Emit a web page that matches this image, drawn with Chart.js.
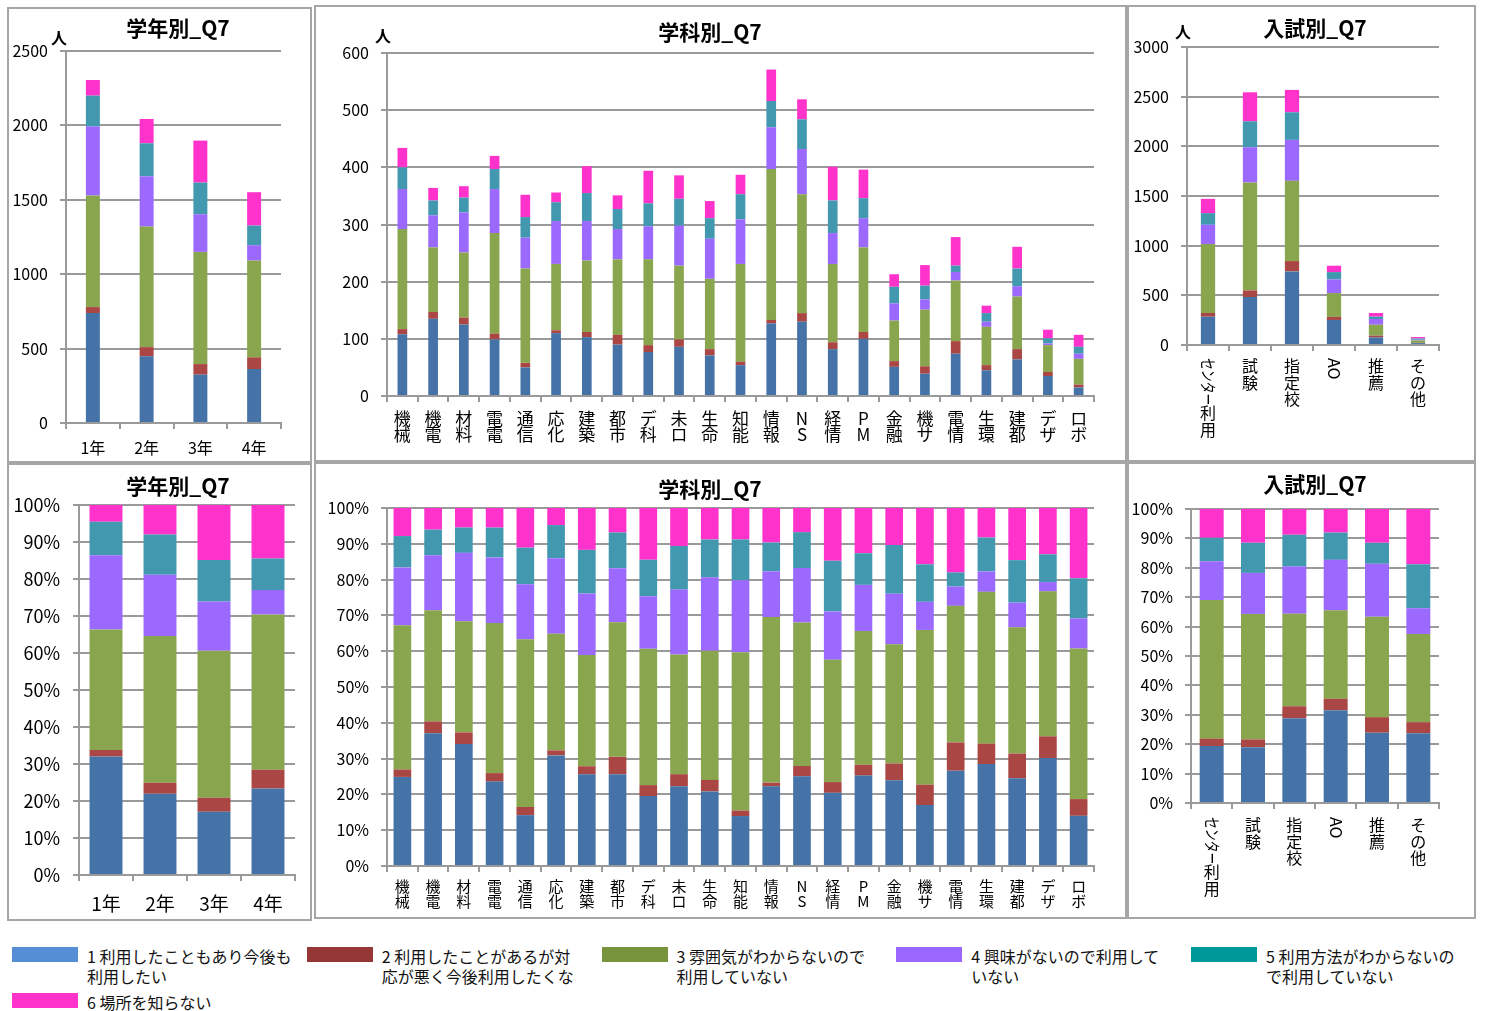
<!DOCTYPE html>
<html lang="ja">
<head>
<meta charset="utf-8">
<title>Q7 集計</title>
<script src="https://cdn.jsdelivr.net/npm/chart.js@4/dist/chart.umd.min.js"></script>
<style>
  body { margin: 0; background: #fff; }
  #page { position: relative; width: 1487px; height: 1011px; overflow: hidden;
          font-family: 'Noto Sans CJK JP', 'Noto Sans', sans-serif; }
  .panel { position: absolute; box-sizing: border-box; border: 2px solid #a6a6a6; }
  .panel canvas { position: absolute; left: -2px; top: -2px; }
  .lg { position: absolute; }
  .lg .sw { position: absolute; left: 0; top: 1px; width: 66px; height: 15px; }
  .lg .tx { position: absolute; left: 75px; top: 0; font-size: 16px; line-height: 20px;
            color: #111; white-space: nowrap; }
</style>
</head>
<body>
<div id="page"></div>
<script>
/* Q7 answers split by grade, department and admission type (counts and 100% shares) */

const FONT = "'Noto Sans CJK JP', 'Noto Sans', sans-serif";
const AXIS = '#9a9a9a';

const SERIES = [
  '1 利用したこともあり今後も利用したい',
  '2 利用したことがあるが対応が悪く今後利用したくな',
  '3 雰囲気がわからないので利用していない',
  '4 興味がないので利用していない',
  '5 利用方法がわからないので利用していない',
  '6 場所を知らない',
];
const LEGEND_LINES = [
  ['1 利用したこともあり今後も', '利用したい'],
  ['2 利用したことがあるが対', '応が悪く今後利用したくな'],
  ['3 雰囲気がわからないので', '利用していない'],
  ['4 興味がないので利用して', 'いない'],
  ['5 利用方法がわからないの', 'で利用していない'],
  ['6 場所を知らない'],
];
const BAR_COLORS = ['#4572A7', '#AA4643', '#89A54E', '#9B69FE', '#4198AF', '#FF33CC'];
const LEGEND_COLORS = ['#558ED5', '#953735', '#77933C', '#9966FF', '#009999', '#FF33CC'];

// 学年別
const gradeLabels = ['1年', '2年', '3年', '4年'];
const grade1 = [739, 448, 325, 363];
const grade2 = [40, 62, 71, 78];
const grade3 = [750, 810, 754, 651];
const grade4 = [463, 338, 253, 103];
const grade5 = [208, 222, 213, 132];
const grade6 = [105, 163, 282, 224];

// 学科別
const deptLabels = ['機械', '機電', '材料', '電電', '通信', '応化', '建築', '都市', 'デ科', '未ロ', '生命',
  '知能', '情報', 'NS', '経情', 'PM', '金融', '機サ', '電情', '生環', '建都', 'デザ', 'ロボ'];
const dept1 = [108, 135, 125, 99, 50, 110, 103, 90, 77, 86, 71, 54, 127, 130, 82, 100, 51, 39, 74, 45, 64, 35, 15];
const dept2 = [9, 12, 12, 10, 8, 5, 9, 17, 12, 13, 11, 6, 6, 15, 12, 12, 10, 13, 22, 9, 18, 7, 5];
const dept3 = [175, 113, 114, 176, 165, 116, 125, 132, 150, 129, 123, 171, 264, 208, 137, 148, 71, 99, 106, 67, 92, 47, 45];
const dept4 = [70, 56, 70, 77, 54, 75, 69, 53, 58, 70, 70, 78, 73, 79, 54, 51, 30, 18, 15, 9, 18, 3, 9];
const dept5 = [38, 26, 26, 35, 36, 33, 49, 35, 40, 47, 36, 44, 46, 52, 57, 35, 29, 24, 11, 15, 31, 9, 12];
const dept6 = [34, 22, 20, 23, 39, 17, 47, 24, 57, 41, 30, 34, 55, 35, 59, 50, 22, 36, 50, 13, 38, 15, 21];

// 入試別
const examLabels = ['センター利用', '試験', '指定校', 'AO', '推薦', 'その他'];
const exam1 = [285, 483, 741, 252, 77, 19];
const exam2 = [37, 67, 104, 31, 17, 3];
const exam3 = [694, 1086, 808, 240, 110, 24];
const exam4 = [194, 355, 412, 137, 58, 7];
const exam5 = [117, 261, 278, 74, 23, 12];
const exam6 = [144, 292, 225, 64, 37, 15];

Chart.defaults.font.family = FONT;
Chart.defaults.color = '#000';

// chart title and the 人 unit mark above the value axis
const panelText = {
  id: 'panelText',
  afterDraw(chart, args, o) {
    if (!o.title) return;
    const ctx = chart.ctx;
    ctx.save();
    ctx.fillStyle = '#000';
    ctx.textAlign = 'center';
    ctx.textBaseline = 'middle';
    ctx.font = `bold 21px ${FONT}`;
    ctx.fillText(o.title, o.tx, o.ty);
    if (o.unit) {
      ctx.font = `bold 16px ${FONT}`;
      ctx.fillText('人', o.ux, o.uy);
    }
    ctx.restore();
  },
};

// top-to-bottom category labels; latin and katakana runs lie on their side
const verticalTicks = {
  id: 'verticalTicks',
  afterDraw(chart, args, o) {
    if (!o.on) return;
    const sx = chart.scales.x;
    const ctx = chart.ctx;
    ctx.save();
    ctx.fillStyle = '#000';
    ctx.font = `${o.size}px ${FONT}`;
    const side = /^[\u0020-\u007e\u30a0-\u30ff\uff61-\uff9f]+$/;
    chart.data.labels.forEach((lab, i) => {
      const x = sx.getPixelForTick(i);
      let y = sx.top + o.gap;
      const runs = lab.match(/[\u0020-\u007e\u30a0-\u30ff\uff61-\uff9f]+|./g);
      runs.forEach((r) => {
        if (side.test(r)) {
          const kana = /[\u30a0-\u30ff]/.test(r);
          const w = ctx.measureText(r).width * (kana ? 0.74 : 1);
          ctx.save();
          ctx.translate(x, y);
          ctx.rotate(Math.PI / 2);
          ctx.textAlign = 'left';
          ctx.textBaseline = 'middle';
          ctx.fillText(r, 0, 0, w);
          ctx.restore();
          y += w;
        } else {
          ctx.textAlign = 'center';
          ctx.textBaseline = 'top';
          ctx.fillText(r, x, y);
          y += o.step;
        }
      });
    });
    ctx.restore();
  },
};

Chart.register(panelText, verticalTicks);

function makeChart(c) {
  const b = c.box;
  const p = c.plot;
  const panel = document.createElement('div');
  panel.className = 'panel';
  Object.assign(panel.style, { left: b.x + 'px', top: b.y + 'px', width: b.w + 'px', height: b.h + 'px' });
  const canvas = document.createElement('canvas');
  canvas.width = b.w;
  canvas.height = b.h;
  panel.appendChild(canvas);
  document.getElementById('page').appendChild(panel);

  const totals = c.labels.map((_, j) => c.series.reduce((s, arr) => s + arr[j], 0));
  const datasets = c.series.map((arr, i) => ({
    label: SERIES[i],
    data: c.pct ? arr.map((v, j) => (v / totals[j]) * 100) : arr,
    backgroundColor: BAR_COLORS[i],
    borderWidth: 0,
    barPercentage: c.bar,
    categoryPercentage: 1,
  }));

  const xLabels = c.vertical ? c.labels : c.labels.map((l) => (c.stack ? l.split('') : l));

  return new Chart(canvas, {
    type: 'bar',
    data: { labels: xLabels, datasets },
    options: {
      responsive: false,
      animation: false,
      events: [],
      layout: { padding: { top: p.t - b.y, right: b.x + b.w - p.r, left: 0, bottom: 0 } },
      plugins: {
        legend: { display: false },
        tooltip: { enabled: false },
        panelText: {
          title: c.title, tx: c.tx - b.x, ty: c.ty - b.y,
          unit: !!c.ux, ux: (c.ux || 0) - b.x, uy: (c.uy || 0) - b.y,
        },
        verticalTicks: { on: !!c.vertical, size: c.xSize, step: c.xStep, gap: c.xGap },
      },
      scales: {
        x: {
          stacked: true,
          afterFit: (s) => { s.height = b.y + b.h - p.b; },
          grid: { drawOnChartArea: false, color: AXIS, lineWidth: 2, tickLength: 6 },
          border: { color: AXIS, width: 2 },
          ticks: {
            autoSkip: false, maxRotation: 0, minRotation: 0,
            padding: c.xPad,
            color: c.vertical ? 'rgba(0,0,0,0)' : '#000',
            font: { size: c.xSize, lineHeight: c.xLine || 1.2 },
          },
        },
        y: {
          stacked: true,
          min: 0,
          max: c.max,
          afterFit: (s) => { s.width = p.l - b.x; },
          grid: { color: AXIS, lineWidth: 2, tickLength: 6 },
          border: { color: AXIS, width: 2 },
          ticks: {
            stepSize: c.step,
            padding: c.yPad || 12,
            font: { size: c.ySize },
            callback: c.pct ? (v) => v + '%' : (v) => v,
          },
        },
      },
    },
  });
}

const gradeSeries = [grade1, grade2, grade3, grade4, grade5, grade6];
const deptSeries = [dept1, dept2, dept3, dept4, dept5, dept6];
const examSeries = [exam1, exam2, exam3, exam4, exam5, exam6];

// counts
makeChart({
  box: { x: 7, y: 7, w: 305, h: 456 }, plot: { l: 66, t: 51, r: 281, b: 423 },
  labels: gradeLabels, series: gradeSeries, max: 2500, step: 500, bar: 0.26,
  title: '学年別_Q7', tx: 178, ty: 28, ux: 59, uy: 38,
  xSize: 16, xPad: 9, ySize: 16,
});
makeChart({
  box: { x: 314, y: 5, w: 813, h: 457 }, plot: { l: 387, t: 53, r: 1094, b: 396 },
  labels: deptLabels, series: deptSeries, max: 600, step: 100, bar: 0.315, stack: true,
  title: '学科別_Q7', tx: 710, ty: 32, ux: 383, uy: 36,
  xSize: 17, xLine: 0.98, xPad: 8, ySize: 16,
});
makeChart({
  box: { x: 1127, y: 5, w: 349, h: 457 }, plot: { l: 1187, t: 47, r: 1439, b: 345 },
  labels: examLabels, series: examSeries, max: 3000, step: 500, bar: 0.34, vertical: true,
  title: '入試別_Q7', tx: 1315, ty: 28, ux: 1183, uy: 32,
  xSize: 16, xStep: 16.5, xGap: 13, ySize: 16,
});

// shares
makeChart({
  box: { x: 7, y: 463, w: 305, h: 458 }, plot: { l: 79, t: 505, r: 295, b: 875 },
  labels: gradeLabels, series: gradeSeries, pct: true, max: 100, step: 10, bar: 0.61,
  title: '学年別_Q7', tx: 178, ty: 486,
  xSize: 19, xPad: 11, ySize: 18, yPad: 13,
});
makeChart({
  box: { x: 314, y: 462, w: 813, h: 457 }, plot: { l: 387, t: 508, r: 1094, b: 866 },
  labels: deptLabels, series: deptSeries, pct: true, max: 100, step: 10, bar: 0.575, stack: true,
  title: '学科別_Q7', tx: 710, ty: 489,
  xSize: 15, xLine: 1.04, xPad: 6, ySize: 16,
});
makeChart({
  box: { x: 1127, y: 462, w: 349, h: 457 }, plot: { l: 1191, t: 509, r: 1439, b: 803 },
  labels: examLabels, series: examSeries, pct: true, max: 100, step: 10, bar: 0.58, vertical: true,
  title: '入試別_Q7', tx: 1315, ty: 484,
  xSize: 16, xStep: 16.5, xGap: 14, ySize: 16,
});

// shared legend under the panels
const page = document.getElementById('page');
LEGEND_LINES.forEach((lines, i) => {
  const item = document.createElement('div');
  item.className = 'lg';
  item.style.left = (i < 5 ? 12 + i * 294.75 : 12) + 'px';
  item.style.top = (i < 5 ? 946 : 992) + 'px';
  const sw = document.createElement('span');
  sw.className = 'sw';
  sw.style.background = LEGEND_COLORS[i];
  const tx = document.createElement('span');
  tx.className = 'tx';
  tx.innerHTML = lines.join('<br>');
  item.append(sw, tx);
  page.appendChild(item);
});
</script>
</body>
</html>
